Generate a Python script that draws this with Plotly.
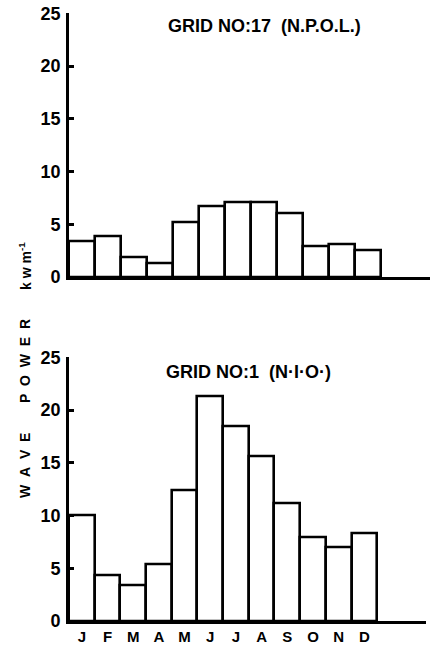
import plotly.graph_objects as go

months = ["J", "F", "M", "A", "M", "J", "J", "A", "S", "O", "N", "D"]
npol_power = [3.4, 3.9, 1.9, 1.3, 5.2, 6.7, 7.1, 7.1, 6.0, 2.9, 3.1, 2.5]
nio_power = [10.0, 4.3, 3.4, 5.4, 12.4, 21.3, 18.5, 15.6, 11.2, 7.9, 7.0, 8.3]
y_ticks = [0, 5, 10, 15, 20, 25]
titles = ["GRID NO:17  (N.P.O.L.)", "GRID NO:1  (N\u00b7I\u00b7O\u00b7)"]

W, H = 430, 648
FONT = "Liberation Sans, Arial, sans-serif"

xpos = list(range(len(months)))

fig = go.Figure()
for i, vals in enumerate([npol_power, nio_power]):
    sfx = "" if i == 0 else "2"
    fig.add_trace(go.Bar(
        x=xpos, y=vals, width=1.0,
        marker=dict(color="white", line=dict(color="black", width=2.6)),
        xaxis="x" + sfx, yaxis="y" + sfx, showlegend=False,
        hoverinfo="skip",
    ))

def px_x(p):
    return p / W

def px_y(p):
    return 1 - p / H

xr = [-0.5, 13.4]
common_y = dict(
    range=[0, 25], tickvals=y_ticks, ticks="inside", ticklen=5, tickwidth=2.5,
    tickcolor="black", showline=True, linecolor="black", linewidth=2.6,
    showgrid=False, zeroline=False, automargin=False, ticklabelstandoff=2,
    tickfont=dict(family=FONT, size=18, color="black", weight="bold"),
)
common_x = dict(
    range=xr, showline=True, linecolor="black", linewidth=2.6,
    showgrid=False, zeroline=False, ticks="", automargin=False,
)

fig.update_layout(
    width=W, height=H,
    margin=dict(l=0, r=0, t=0, b=0),
    paper_bgcolor="white", plot_bgcolor="white",
    bargap=0,
    xaxis=dict(common_x, domain=[px_x(69), 1.0], anchor="y", showticklabels=False),
    yaxis=dict(common_y, domain=[px_y(277), px_y(13.3)], anchor="x"),
    xaxis2=dict(common_x, domain=[px_x(69), px_x(426)], anchor="y2",
                tickvals=xpos, ticktext=months, ticklabelstandoff=0,
                tickfont=dict(family=FONT, size=15, color="black", weight="bold")),
    yaxis2=dict(common_y, domain=[px_y(621), px_y(357.3)], anchor="x2"),
)

# panel titles
for txt, cx, cy in [(titles[0], 264, 26), (titles[1], 248, 372)]:
    fig.add_annotation(
        text=txt, x=px_x(cx), y=px_y(cy), xref="paper", yref="paper",
        xanchor="center", yanchor="middle", showarrow=False,
        font=dict(family=FONT, size=18, color="black", weight="bold"),
    )

# vertical axis caption, one word at a time
sp = "\u00a0\u00a0"
for txt, cy, sz in [(sp.join("WAVE"), 466, 14), (sp.join("POWER"), 361, 14),
                    ("k\u00a0w\u00a0m<sup>-1</sup>", 266, 14)]:
    fig.add_annotation(
        text=txt, x=px_x(25), y=px_y(cy), xref="paper", yref="paper",
        xanchor="center", yanchor="middle", showarrow=False, textangle=-90,
        font=dict(family=FONT, size=sz, color="black", weight="bold"),
    )

fig.write_html("out.html")
